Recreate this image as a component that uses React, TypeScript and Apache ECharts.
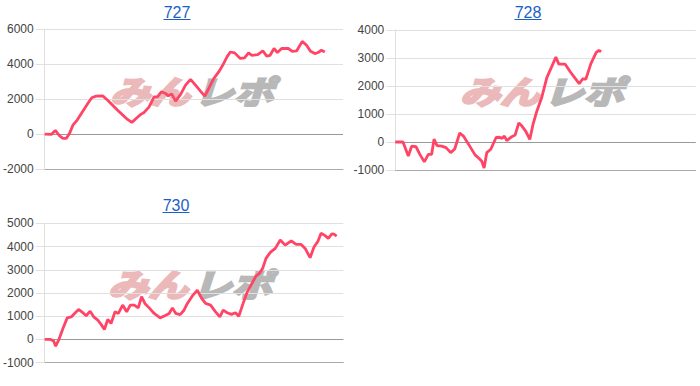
import React, { useEffect, useRef } from "react";
import * as echarts from "echarts";

const TITLES = ["727", "728", "730"];

const X727 = [0,2,3.2,4.5,5.5,6.5,7.5,8.5,9.8,11.5,13,14.2,15.5,17.5,19,22,25,26.3,28,29,30,31.5,33,34,35.2,36.5,37.3,38.3,39.5,41,42.5,44,45.5,47,48.3,49.5,51,52.5,53.7,55,56,57.3,59,60.3,61.5,62.5,64.3,65.8,67,68,69.2,70.2,71.5,73.5,74.7,76,77.7,79,80.2,81.5,82.5,83.5,84.5];
const Y727 = [0,-20,210,-100,-250,-250,40,510,800,1310,1750,2080,2170,2190,1940,1370,840,670,960,1130,1240,1560,2130,2130,2420,2320,2190,2300,1890,2270,2800,3130,2800,2460,2170,2610,3180,3560,3940,4420,4700,4650,4330,4360,4650,4510,4550,4760,4470,4510,4900,4670,4900,4900,4740,4760,5310,5090,4740,4610,4670,4800,4700];

const X728 = [0,2.3,3.9,4.9,6.2,7.4,8.7,9.9,10.9,11.6,12.5,13.9,15.2,16.6,17.8,19.3,20.5,22.2,23.9,25.2,25.9,26.6,27.4,28.6,30.2,31.2,32,32.7,33.4,34.9,35.9,37,38,39.1,40.3,41.2,42.4,43.9,45.4,46.9,48.1,49,50.9,52.4,53.9,55.1,56.1,57.1,58.6,60.2,61,61.7];
const Y728 = [0,0,-500,-150,-170,-450,-710,-440,-440,100,-130,-150,-200,-380,-250,320,200,-130,-460,-600,-690,-930,-380,-260,160,170,130,210,50,190,250,680,560,380,90,600,1100,1600,2300,2700,3030,2780,2780,2510,2270,2080,2250,2250,2800,3200,3270,3230];

const X730 = [0,1.8,2.7,3.3,4.2,5.5,6.8,8,9,10.2,11.2,12.5,13.7,14.8,16,17,18,19,20,21.2,22.2,23.5,24.7,25.8,27,28.2,29.2,30.2,31.5,33,34.8,36.2,37.5,38.5,39.5,40.8,42,43,44.7,46,47.3,48.5,50,51.5,52.8,53.8,55,56.3,57.5,58.5,59.7,61,62.3,63.7,64.7,65.7,66.7,68,69.5,71,72.5,74.3,75.8,77.3,78.5,80,81.2,82.3,83.3,84.5,85.5,86.5,87.2,88];
const Y730 = [0,0,-70,-290,-30,470,930,970,1120,1290,1190,1020,1220,970,830,650,430,860,690,1190,1120,1480,1190,1480,1480,1360,1840,1550,1360,1120,930,1020,1120,1360,1120,1070,1260,1550,1910,2120,1770,1550,1480,1190,970,1260,1150,1080,1150,1000,1510,2030,2370,2730,2840,3060,3490,3750,3920,4280,4060,4240,4090,4090,3920,3520,3990,4210,4570,4470,4350,4540,4530,4450];

const Y_MIN = [-2000, -1000, -1000];
const Y_MAX = [6000, 4000, 5000];
const Y_STEP = [2000, 1000, 1000];
const X_MAX = 90;

const SERIES_X = [X727, X728, X730];
const SERIES_Y = [Y727, Y728, Y730];

const GRIDS = [
  { left: 43.3, top: 29.3, width: 299.7, height: 139.7 },
  { left: 395.3, top: 30, width: 300.4, height: 140 },
  { left: 43.3, top: 223.3, width: 300, height: 139.4 },
];
const TITLE_POS = [
  { x: 177, y: 12 },
  { x: 528, y: 12 },
  { x: 176, y: 205 },
];
const MARK_POS = [
  { x: 110, y: 90 },
  { x: 460, y: 90 },
  { x: 108, y: 283 },
];

export default function App() {
  const ref = useRef<HTMLDivElement>(null);
  useEffect(() => {
    if (!ref.current) return;
    const chart = echarts.init(ref.current, undefined, { renderer: "svg" });
    const graphic: any[] = [];
    TITLES.forEach((t, i) => {
      const p = TITLE_POS[i];
      graphic.push({
        type: "text",
        x: p.x,
        y: p.y,
        z: 10,
        style: {
          text: t,
          fill: "#1a5fc8",
          fontSize: 16,
          fontFamily: "Arial, 'Liberation Sans', sans-serif",
          align: "center",
          verticalAlign: "middle",
        },
      });
      graphic.push({
        type: "line",
        z: 10,
        shape: { x1: p.x - 13.5, y1: p.y + 7.5, x2: p.x + 13.5, y2: p.y + 7.5 },
        style: { stroke: "#1a5fc8", lineWidth: 1 },
      });
      const m = MARK_POS[i];
      graphic.push({
        type: "text",
        x: m.x,
        y: m.y,
        z: -1,
        scaleX: 1.25,
        style: {
          text: "みん",
          fill: "#ebb9b9",
          stroke: "#ebb9b9",
          lineWidth: 2.5,
          fontSize: 32,
          fontWeight: "bold",
          fontStyle: "italic",
          fontFamily: "'Noto Sans CJK JP'",
          align: "left",
          verticalAlign: "middle",
        },
      });
      graphic.push({
        type: "text",
        x: m.x + 84,
        y: m.y,
        z: -1,
        scaleX: 1.25,
        style: {
          text: "レポ",
          fill: "#b8b8b8",
          stroke: "#b8b8b8",
          lineWidth: 2.5,
          fontSize: 32,
          fontWeight: "bold",
          fontStyle: "italic",
          fontFamily: "'Noto Sans CJK JP'",
          align: "left",
          verticalAlign: "middle",
        },
      });
    });

    const option: any = {
      animation: false,
      backgroundColor: "#ffffff",
      graphic,
      grid: GRIDS.map((g) => ({ ...g, containLabel: false })),
      xAxis: GRIDS.map((_, i) => ({
        type: "value",
        gridIndex: i,
        min: 0,
        max: X_MAX,
        axisLine: { show: true, onZero: false, lineStyle: { color: "#aaaaaa", width: 1 } },
        axisTick: { show: false },
        axisLabel: { show: false },
        splitLine: { show: false },
      })),
      yAxis: GRIDS.map((_, i) => ({
        type: "value",
        gridIndex: i,
        min: Y_MIN[i],
        max: Y_MAX[i],
        interval: Y_STEP[i],
        axisLine: { show: true, lineStyle: { color: "#e0e0e0", width: 1 } },
        axisTick: { show: true, length: 9, lineStyle: { color: "#e0e0e0" } },
        axisLabel: {
          margin: 11,
          color: "#444444",
          fontSize: 12,
          fontFamily: "Arial, 'Liberation Sans', sans-serif",
          formatter: (v: number) => String(v),
        },
        splitLine: { show: true, lineStyle: { color: "#e0e0e0", width: 1 } },
      })),
      series: SERIES_Y.map((ys, i) => ({
        type: "line",
        xAxisIndex: i,
        yAxisIndex: i,
        data: ys.map((y, j) => [SERIES_X[i][j], y]),
        showSymbol: false,
        symbol: "none",
        lineStyle: { color: "#ff4466", width: 2.8 },
        z: 5,
        markLine: {
          silent: true,
          symbol: "none",
          label: { show: false },
          lineStyle: { color: "#999999", width: 1, type: "solid" },
          data: [{ yAxis: 0 }],
          z: 3,
        },
      })),
    };
    chart.setOption(option);
    return () => chart.dispose();
  }, []);
  return (
    <div
      ref={ref}
      style={{ position: "fixed", left: 0, top: 0, width: 700, height: 386 }}
    />
  );
}
